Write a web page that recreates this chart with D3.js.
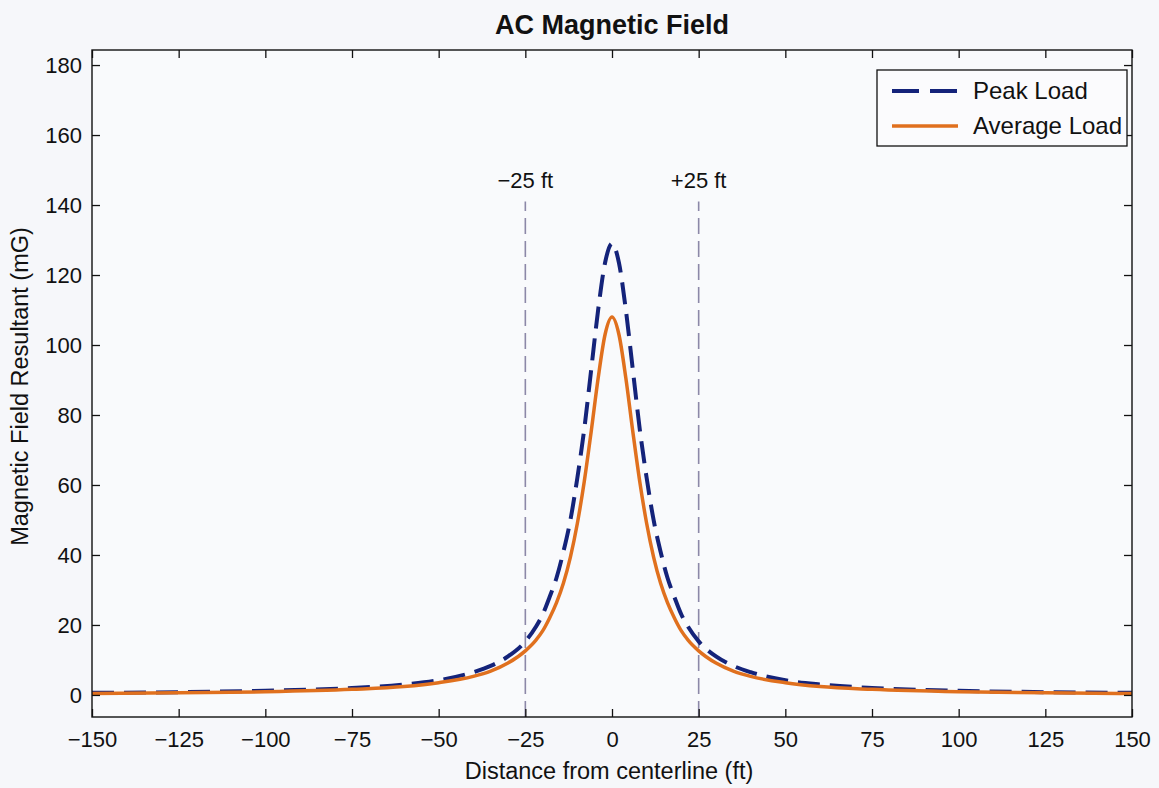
<!DOCTYPE html>
<html>
<head>
<meta charset="utf-8">
<script src="https://cdn.jsdelivr.net/npm/d3@7"></script>
<style>
  body { margin: 0; background: #f6f7fa; }
  svg { display: block; font-family: "Liberation Sans", Arial, sans-serif; }
</style>
</head>
<body>
<svg id="chart" width="1159" height="788"></svg>
<script>
// values
const distanceFt = [-150, -125, -100, -75, -60, -50, -40, -35, -30, -25, -22, -20, -18, -16, -14, -12, -10, -8, -6, -4, -2, 0,
                    2, 4, 6, 8, 10, 12, 14, 16, 18, 20, 22, 25, 30, 35, 40, 50, 60, 75, 100, 125, 150];
const peakLoad = [0.6, 0.8, 1.2, 2, 3, 4.2, 6.5, 8.3, 11, 15.3, 19.4, 23, 28, 33.5, 41, 50, 62, 76, 93, 110, 123.5, 129,
                  123.5, 110, 93, 76, 62, 50, 41, 33.5, 28, 23, 19.4, 15.3, 11, 8.3, 6.5, 4.2, 3, 2, 1.2, 0.8, 0.6];
const averageLoad = [0.4, 0.6, 0.9, 1.6, 2.4, 3.5, 5.3, 6.8, 9.1, 12.6, 15.6, 18.3, 22, 26.4, 32, 39.4, 49, 61, 75.3, 90.5, 103, 108,
                     103, 90.5, 75.3, 61, 49, 39.4, 32, 26.4, 22, 18.3, 15.6, 12.6, 9.1, 6.8, 5.3, 3.5, 2.4, 1.6, 0.9, 0.6, 0.4];
const xTicks = [-150, -125, -100, -75, -50, -25, 0, 25, 50, 75, 100, 125, 150];
const yTicks = [0, 20, 40, 60, 80, 100, 120, 140, 160, 180];
const markers = [{ x: -25, label: "\u221225 ft" }, { x: 25, label: "+25 ft" }];
const seriesNames = ["Peak Load", "Average Load"];

const svg = d3.select("#chart");
const plotL = 92, plotR = 1132, plotT = 50, plotB = 717;

const x = d3.scaleLinear().domain([-150, 150]).range([plotL, plotR]);
const y = d3.scaleLinear().domain([-6.3, 184.3]).range([plotB, plotT]);

const peakColor = "#14237a";
const avgColor = "#e0701e";

// plot background
svg.append("rect").attr("x", plotL).attr("y", plotT)
  .attr("width", plotR - plotL).attr("height", plotB - plotT)
  .attr("fill", "#f9fafc");

// reference lines at +/-25 ft
markers.forEach(m => {
  svg.append("line")
    .attr("x1", x(m.x)).attr("x2", x(m.x))
    .attr("y1", y(-6.3)).attr("y2", y(141))
    .attr("stroke", "#8c88a8").attr("stroke-width", 1.6)
    .attr("stroke-dasharray", "16,7");
  svg.append("text")
    .attr("x", x(m.x)).attr("y", y(145))
    .attr("text-anchor", "middle")
    .attr("font-size", "22px").attr("fill", "#111")
    .text(m.label);
});

const line = d3.line().x(d => x(d[0])).y(d => y(d[1])).curve(d3.curveMonotoneX);

svg.append("path")
  .datum(distanceFt.map((d, i) => [d, peakLoad[i]]))
  .attr("d", line).attr("fill", "none")
  .attr("stroke", peakColor).attr("stroke-width", 4)
  .attr("stroke-dasharray", "22,10");

svg.append("path")
  .datum(distanceFt.map((d, i) => [d, averageLoad[i]]))
  .attr("d", line).attr("fill", "none")
  .attr("stroke", avgColor).attr("stroke-width", 3.5);

// axes, ticks pointing inward on all four sides
const styleAxis = g => {
  g.select(".domain").remove();
  g.selectAll(".tick line").attr("stroke", "#111").attr("stroke-width", 1.3);
  g.selectAll(".tick text").attr("font-size", "22px").attr("fill", "#111")
    .attr("font-family", "Liberation Sans, Arial, sans-serif");
};

svg.append("g").attr("transform", `translate(0,${plotB})`)
  .call(d3.axisBottom(x).tickValues(xTicks).tickSize(-8).tickPadding(14))
  .call(styleAxis);
svg.append("g").attr("transform", `translate(0,${plotT})`)
  .call(d3.axisTop(x).tickValues(xTicks).tickSize(-8).tickFormat(""))
  .call(styleAxis);
svg.append("g").attr("transform", `translate(${plotL},0)`)
  .call(d3.axisLeft(y).tickValues(yTicks).tickSize(-8).tickPadding(10))
  .call(styleAxis);
svg.append("g").attr("transform", `translate(${plotR},0)`)
  .call(d3.axisRight(y).tickValues(yTicks).tickSize(-8).tickFormat(""))
  .call(styleAxis);

svg.append("rect").attr("x", plotL).attr("y", plotT)
  .attr("width", plotR - plotL).attr("height", plotB - plotT)
  .attr("fill", "none").attr("stroke", "#111").attr("stroke-width", 1.4);

// title and axis labels
svg.append("text").attr("x", 612).attr("y", 34)
  .attr("text-anchor", "middle").attr("font-size", "27px").attr("font-weight", "bold")
  .attr("fill", "#111").text("AC Magnetic Field");

svg.append("text").attr("x", 609).attr("y", 779)
  .attr("text-anchor", "middle").attr("font-size", "23.5px")
  .attr("fill", "#111").text("Distance from centerline (ft)");

svg.append("text").attr("transform", `translate(28,${(plotT + plotB) / 2 + 3}) rotate(-90)`)
  .attr("text-anchor", "middle").attr("font-size", "23.5px")
  .attr("fill", "#111").text("Magnetic Field Resultant (mG)");

// legend
const lg = svg.append("g").attr("transform", "translate(877,70)");
lg.append("rect").attr("width", 250).attr("height", 76)
  .attr("fill", "#fbfbfd").attr("stroke", "#111").attr("stroke-width", 1.3);
seriesNames.forEach((name, i) => {
  const ly = 21 + i * 35;
  lg.append("line").attr("x1", 15).attr("x2", 81).attr("y1", ly).attr("y2", ly)
    .attr("stroke", i === 0 ? peakColor : avgColor)
    .attr("stroke-width", i === 0 ? 4 : 3.5)
    .attr("stroke-dasharray", i === 0 ? "27,11" : null);
  lg.append("text").attr("x", 96).attr("y", ly + 8)
    .attr("font-size", "24px").attr("fill", "#111").text(name);
});
</script>
</body>
</html>
